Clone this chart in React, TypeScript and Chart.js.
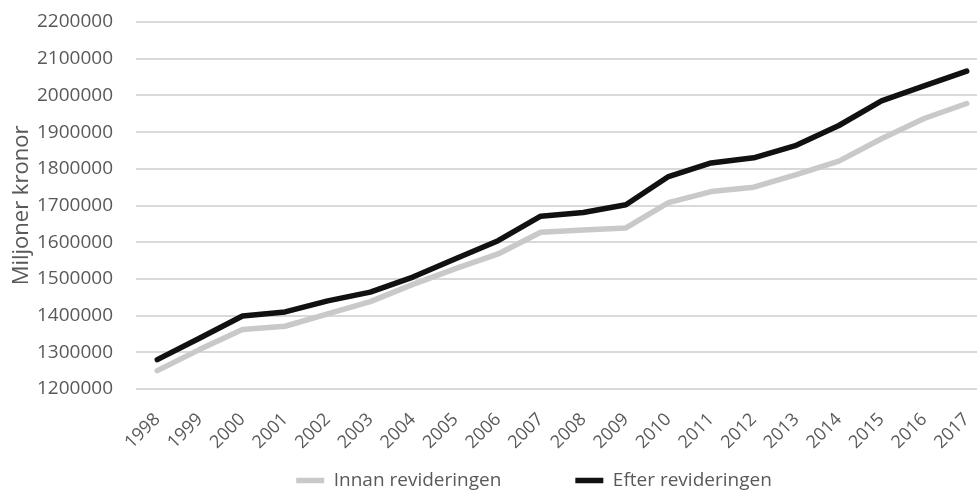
import React, { useEffect, useRef } from "react";
import { Chart, registerables } from "chart.js";

Chart.register(...registerables);

const years = [
  "1998", "1999", "2000", "2001", "2002", "2003", "2004", "2005", "2006", "2007",
  "2008", "2009", "2010", "2011", "2012", "2013", "2014", "2015", "2016", "2017",
];

const innanRevideringen = [
  1250000, 1308000, 1362000, 1371000, 1405000, 1438000, 1485000, 1528000, 1568000, 1627000,
  1633000, 1639000, 1708000, 1738000, 1750000, 1784000, 1821000, 1882000, 1937000, 1978000,
];

const efterRevideringen = [
  1280000, 1339000, 1399000, 1410000, 1440000, 1464000, 1505000, 1555000, 1604000, 1671000,
  1681000, 1702000, 1779000, 1816000, 1830000, 1864000, 1918000, 1985000, 2026000, 2066000,
];

const seriesNames = ["Innan revideringen", "Efter revideringen"];
const yAxisTitle = "Miljoner kronor";
const yMin = 1200000;
const yMax = 2200000;
const yStep = 100000;

const TEXT = "#595959";
const FONT = "'Open Sans', 'DejaVu Sans', sans-serif";

// lets the x tick labels (drawn below a thin x-axis box) extend into the empty
// upper part of the legend box, so the legend can keep wide item spacing
const xLabelRoom = {
  id: "xLabelRoom",
  afterLayout(chart: any) {
    const x = chart.scales.x;
    if (x) {
      x.bottom = x.top + 70;
      x.height = 70;
    }
  },
};

export default function App() {
  const ref = useRef<HTMLCanvasElement | null>(null);

  useEffect(() => {
    if (!ref.current) return;
    const chart = new Chart(ref.current, {
      type: "line",
      data: {
        labels: years,
        datasets: [
          {
            label: seriesNames[0],
            data: innanRevideringen,
            borderColor: "#c9c9c9",
            backgroundColor: "#c9c9c9",
            borderWidth: 5.5,
            pointRadius: 0,
            borderCapStyle: "round",
            borderJoinStyle: "round",
            tension: 0,
            order: 2,
            yAxisID: "y",
          },
          {
            label: seriesNames[1],
            data: efterRevideringen,
            borderColor: "#111111",
            backgroundColor: "#111111",
            borderWidth: 5.5,
            pointRadius: 0,
            borderCapStyle: "round",
            borderJoinStyle: "round",
            tension: 0,
            order: 1,
            yAxisID: "y",
          },
        ],
      },
      plugins: [xLabelRoom],
      options: {
        responsive: false,
        animation: false,
        devicePixelRatio: 1,
        font: { family: FONT },
        layout: { padding: { top: 22, bottom: 0, left: 0, right: 0 } },
        plugins: {
          tooltip: { enabled: false },
          legend: {
            position: "bottom",
            labels: {
              usePointStyle: true,
              pointStyle: "line",
              pointStyleWidth: 28,
              color: TEXT,
              font: { family: FONT, size: 19 },
              padding: 74,
              sort: (a: any, b: any) => a.datasetIndex - b.datasetIndex,
            },
          },
        },
        scales: {
          x: {
            offset: true,
            grid: { display: false },
            border: { display: false },
            ticks: {
              autoSkip: false,
              minRotation: 45,
              maxRotation: 45,
              color: TEXT,
              font: { family: FONT, size: 18 },
              padding: 12,
            },
            afterFit: (s: any) => {
              s.height = 8;
            },
          },
          y: {
            min: yMin,
            max: yMax,
            grid: { color: "#d9d9d9", lineWidth: 2, drawTicks: false },
            border: { display: false },
            ticks: {
              stepSize: yStep,
              color: TEXT,
              font: { family: FONT, size: 19 },
              padding: 23,
              callback: (v: any) => String(v),
            },
            title: {
              display: true,
              text: yAxisTitle,
              color: TEXT,
              font: { family: FONT, size: 22 },
              padding: { top: 9, bottom: 0 },
            },
            afterFit: (s: any) => {
              s.width = 136;
              s.paddingTop = 0;
              s.paddingBottom = 0;
            },
          },
          yR: {
            type: "linear",
            position: "right",
            display: true,
            grid: { display: false },
            border: { display: false },
            ticks: { display: false },
            afterFit: (s: any) => {
              s.width = 80;
              s.paddingTop = 0;
              s.paddingBottom = 0;
            },
          },
        },
      },
    } as any);
    return () => chart.destroy();
  }, []);

  return (
    <div
      style={{
        position: "fixed",
        left: 0,
        top: 0,
        width: 977,
        height: 490,
        overflow: "hidden",
        background: "#ffffff",
      }}
    >
      <canvas ref={ref} width={1068} height={500} style={{ width: 1068, height: 500, display: "block" }} />
    </div>
  );
}
